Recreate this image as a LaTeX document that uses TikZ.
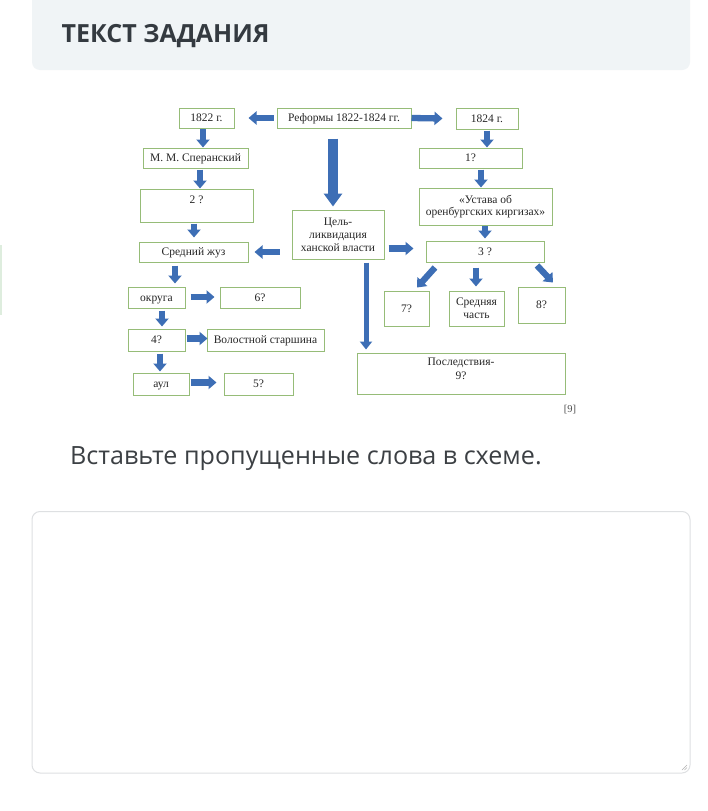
\documentclass[tikz,border=0pt]{standalone}
\usepackage{fontspec}
\usetikzlibrary{arrows.meta,calc}
\newfontfamily\dfont{Liberation Serif}
\newfontfamily\ofont{Open Sans}
\definecolor{boxgreen}{RGB}{150,188,120}
\definecolor{arrblue}{RGB}{61,110,181}
\definecolor{headbg}{RGB}{240,244,246}
\definecolor{headtxt}{RGB}{52,58,64}
\definecolor{bodytxt}{RGB}{60,64,68}
\definecolor{frame}{RGB}{222,224,226}
\tikzset{
  gbox/.style={draw=boxgreen, line width=1pt, fill=white, inner sep=1pt, align=center,
    font=\dfont\fontsize{11.5}{13}\selectfont, text=black!85},
  one/.style={text height=9.5pt, text depth=2pt},
  lbl/.style={anchor=north, inner sep=3pt, align=center, font=\dfont\fontsize{11.5}{13.5}\selectfont, text=black!85},
  sa/.style={draw=arrblue, line width=6.3pt, -{Triangle[length=8pt,width=13pt]}},
  bigarrow/.style={draw=arrblue, line width=10pt, -{Triangle[length=13pt,width=18pt]}},
  longarrow/.style={draw=arrblue, line width=5pt, -{Triangle[length=8pt,width=12pt]}},
}
\begin{document}
\begin{tikzpicture}[x=1pt,y=-1pt]
\useasboundingbox (0,0) rectangle (708,811);
\fill[white] (0,0) rectangle (708,811);
% header
\fill[headbg, rounded corners=8pt] (32,-12) rectangle (690,70);
\node[anchor=base west, inner sep=0pt, font=\ofont\bfseries\fontsize{25}{30}\selectfont, text=headtxt] (head) at (61.5,42.7) {ТЕКСТ ЗАДАНИЯ};
% faint left line
\fill[green!30!gray!20] (0,245) rectangle (1.5,315);
% boxes
\node[gbox, one, minimum width=55pt, minimum height=20pt] (y22) at (206.5,118) {1822 г.};
\node[gbox, one, minimum width=134pt, minimum height=20pt] (ref) at (344,118) {Реформы 1822-1824 гг.};
\node[gbox, one, minimum width=62pt, minimum height=21pt] (y24) at (487,118.5) {1824 г.};
\node[gbox, one, minimum width=105pt, minimum height=20pt] (sper) at (195.5,158) {М. М. Сперанский};
\node[gbox, minimum width=113pt, minimum height=33pt, label={[lbl, yshift=-4pt]north:2 ?}] (q2) at (196.5,205.5) {};
\node[gbox, one, minimum width=103pt, minimum height=20pt] (q1) at (470.5,158) {1?};
\node[gbox, minimum width=133pt, minimum height=37pt, font=\dfont\fontsize{11.5}{12.5}\selectfont] (ust) at (485.5,206.5) {«Устава об\\оренбургских киргизах»};
\node[gbox, minimum width=92pt, minimum height=49pt] (cel) at (338,234.5) {Цель-\\ликвидация\\ханской власти};
\node[gbox, one, minimum width=109pt, minimum height=20pt] (sred) at (193.5,252) {Средний жуз};
\node[gbox, one, minimum width=118pt, minimum height=21pt] (q3) at (485,251.5) {3 ?};
\node[gbox, one, minimum width=45pt, minimum height=35pt] (q7) at (406.5,308.5) {7?};
\node[gbox, minimum width=55pt, minimum height=35pt] (mid) at (476.5,308.5) {Средняя\\часть};
\node[gbox, one, minimum width=47pt, minimum height=36pt] (q8) at (541.5,305) {8?};
\node[gbox, minimum width=208pt, minimum height=41pt, label={[lbl, yshift=-2.5pt]north:Последствия-\\9?}] (cons) at (461,373.5) {};
\node[gbox, one, minimum width=57pt, minimum height=21pt] (okr) at (156.5,297.5) {округа};
\node[gbox, one, minimum width=80pt, minimum height=21pt] (q6) at (260,297.5) {6?};
\node[gbox, one, minimum width=57pt, minimum height=22pt] (q4) at (156.5,340) {4?};
\node[gbox, one, minimum width=117pt, minimum height=22pt] (vol) at (265.5,340) {Волостной старшина};
\node[gbox, one, minimum width=56pt, minimum height=22pt] (aul) at (161,384) {аул};
\node[gbox, one, minimum width=69pt, minimum height=22pt] (q5) at (258.5,384) {5?};
\node[font=\dfont\fontsize{10.5}{12}\selectfont, text=black!70, inner sep=0pt] (ref9) at (570,410) {[9]};
% arrows
\draw[sa] ($(ref.west)+(-3,0)$) -- ($(y22.east)+(14,0)$);
\draw[sa] ($(ref.east)+(0,0)$) -- ($(y24.west)+(-13,0)$);
\draw[sa] ($(y22.south)+(-3.5,0.5)$) -- ($(sper.north)+(7.5,0)$);
\draw[sa] ($(sper.south)+(4.5,1)$) -- ($(q2.north)+(3.5,0)$);
\draw[sa] ($(q2.south)+(-2.5,1)$) -- ($(sred.north)+(0.5,-4)$);
\draw[bigarrow] ($(ref.south)+(-11,10)$) -- ($(cel.north)+(-5,-3)$);
\draw[sa] ($(cel.west)+(-12,17.5)$) -- ($(sred.east)+(6,0)$);
\draw[sa] ($(cel.east)+(4,14)$) -- ($(q3.west)+(-12,-3)$);
\draw[sa] ($(y24.south)+(0,1)$) -- ($(q1.north)+(16.5,0)$);
\draw[sa] ($(q1.south)+(10.5,1)$) -- ($(ust.north)+(-4.5,0)$);
\draw[sa] ($(ust.south)+(-0.5,0.5)$) -- ($(q3.north)+(0,-2)$);
\draw[sa] ($(q3.south)+(-50,5)$) -- ($(q7.north)+(10.5,-3)$);
\draw[sa] ($(q3.south)+(-9,5)$) -- ($(mid.north)+(-0.5,-4)$);
\draw[sa] ($(q3.south)+(52,3)$) -- ($(q8.north)+(11.5,-4)$);
\draw[longarrow] ($(cel.south)+(28,3)$) -- ($(cons.north)+(-95,-3)$);
\draw[sa] ($(sred.south)+(-18.5,3)$) -- ($(okr.north)+(18.5,-3)$);
\draw[sa] ($(okr.east)+(5,-0.5)$) -- ($(q6.west)+(-5,-0.5)$);
\draw[sa] ($(okr.south)+(5.5,2)$) -- ($(q4.north)+(5.5,-2)$);
\draw[sa] ($(q4.east)+(1,-1.5)$) -- ($(vol.west)+(1,-1.5)$);
\draw[sa] ($(q4.south)+(3.5,2)$) -- ($(aul.north)+(-1,-1)$);
\draw[sa] ($(aul.east)+(1,-1.5)$) -- ($(q5.west)+(-7,-1.5)$);
% instruction
\node[anchor=base west, inner sep=0pt, font=\ofont\fontsize{25.1}{28}\selectfont, text=bodytxt] (instr) at (70,464) {Вставьте пропущенные слова в схеме.};
% answer field
\draw[frame, line width=1pt, rounded corners=8pt] (32,511.5) rectangle (690,773);
\coordinate (grip) at (687,770);
\draw[gray!60, line width=0.5pt] ($(grip)+(-5,0)$) -- ($(grip)+(0,-5)$);
\draw[gray!60, line width=0.5pt] ($(grip)+(-2.5,0)$) -- ($(grip)+(0,-2.5)$);
\end{tikzpicture}
\end{document}
